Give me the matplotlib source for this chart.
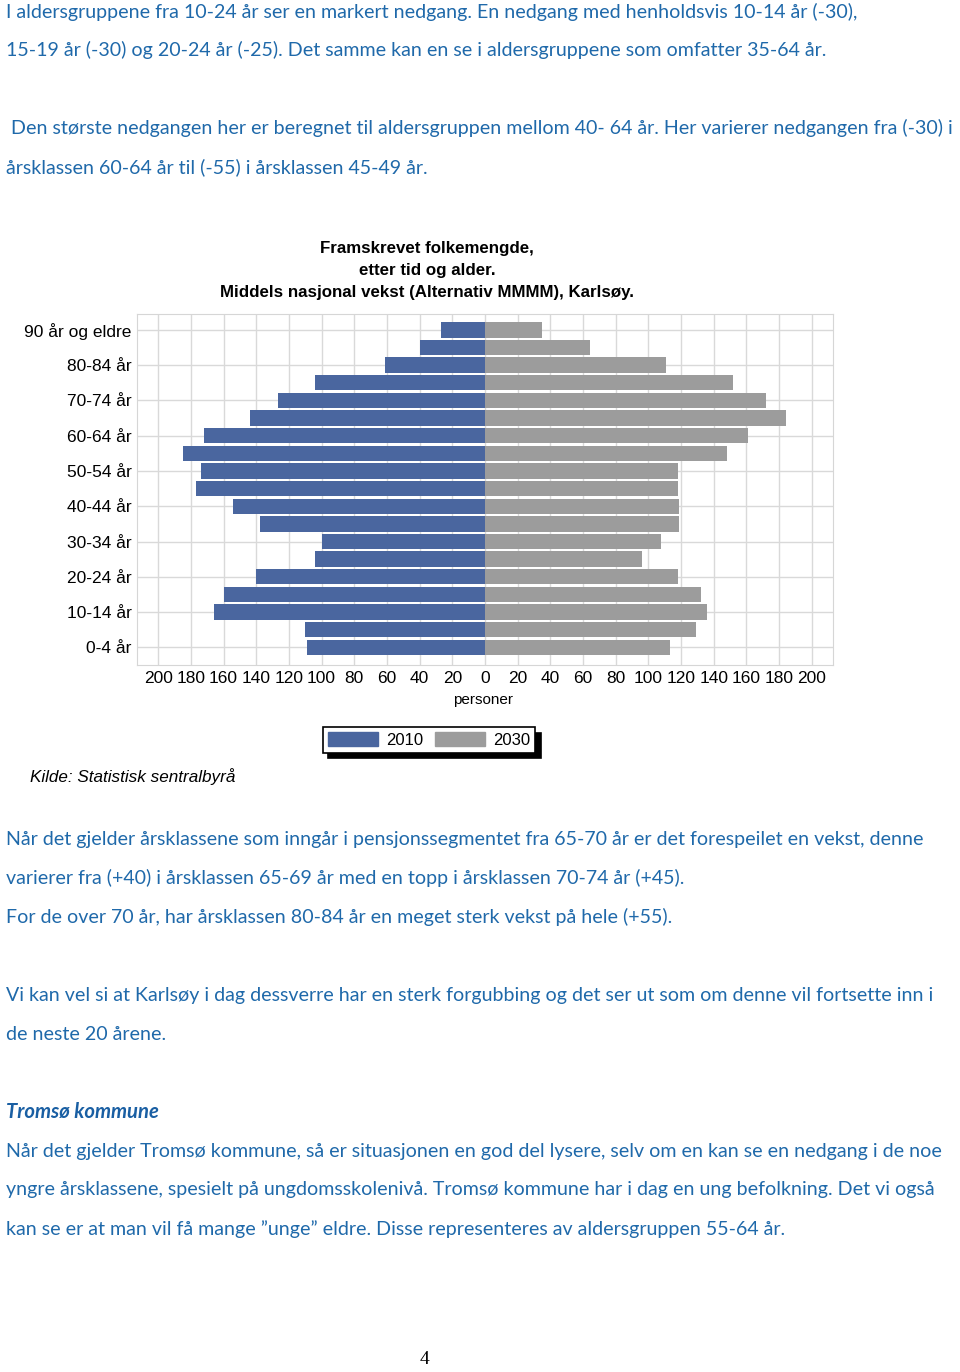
import numpy as np
import matplotlib
matplotlib.use('Agg')
import matplotlib.pyplot as plt
from matplotlib.patches import Patch

# aldersgrupper, fra yngst til eldst
ages = ['0-4 år', '5-9 år', '10-14 år', '15-19 år', '20-24 år', '25-29 år',
        '30-34 år', '35-39 år', '40-44 år', '45-49 år', '50-54 år', '55-59 år',
        '60-64 år', '65-69 år', '70-74 år', '75-79 år', '80-84 år', '85-89 år',
        '90 år og eldre']
pop_2010 = [109, 110, 166, 160, 140, 104, 100, 138, 154, 177,
            174, 185, 172, 144, 127, 104, 61, 40, 27]
pop_2030 = [113, 129, 136, 132, 118, 96, 108, 119, 119, 118,
            118, 148, 161, 184, 172, 152, 111, 64, 35]
x_ticks = list(range(-200, 201, 20))
legend_labels = ['2010', '2030']

title_lines = ["Framskrevet folkemengde,", "etter tid og alder.",
               "Middels nasjonal vekst (Alternativ MMMM), Karlsøy."]
source = "Kilde: Statistisk sentralbyrå"

text_top = [
    (6, 12, "I aldersgruppene fra 10-24 år ser en markert nedgang. En nedgang med henholdsvis 10-14 år (-30),"),
    (6, 50, "15-19 år (-30) og 20-24 år (-25). Det samme kan en se i aldersgruppene som omfatter 35-64 år."),
    (11, 128, "Den største nedgangen her er beregnet til aldersgruppen mellom 40- 64 år. Her varierer nedgangen fra (-30) i"),
    (6, 167, "årsklassen 60-64 år til (-55) i årsklassen 45-49 år."),
    (6, 839, "Når det gjelder årsklassene som inngår i pensjonssegmentet fra 65-70 år er det forespeilet en vekst, denne"),
    (6, 878, "varierer fra (+40) i årsklassen 65-69 år med en topp i årsklassen 70-74 år (+45)."),
    (6, 917, "For de over 70 år, har årsklassen 80-84 år en meget sterk vekst på hele (+55)."),
    (6, 995, "Vi kan vel si at Karlsøy i dag dessverre har en sterk forgubbing og det ser ut som om denne vil fortsette inn i"),
    (6, 1034, "de neste 20 årene."),
    (6, 1151, "Når det gjelder Tromsø kommune, så er situasjonen en god del lysere, selv om en kan se en nedgang i de noe"),
    (6, 1190, "yngre årsklassene, spesielt på ungdomsskolenivå. Tromsø kommune har i dag en ung befolkning. Det vi også"),
    (6, 1229, "kan se er at man vil få mange ”unge” eldre. Disse representeres av aldersgruppen 55-64 år."),
]

W, H = 960, 1372
blue = '#4a669f'
grey = '#9c9c9c'
txt_blue = '#1f69aa'
sans = ['Liberation Sans', 'DejaVu Sans']
body = ['Lato', 'DejaVu Sans']

fig = plt.figure(figsize=(W / 100, H / 100), dpi=100)
fig.patch.set_facecolor('white')

def px(x, y):
    return x / W, 1 - y / H

for x, y, s in text_top:
    fig.text(*px(x, y), s, fontsize=14.15, family=body,
             color=txt_blue, va='center', ha='left')
fig.text(*px(6, 1112), "Tromsø kommune", fontsize=14.6, family=body,
         color='#1a5fa3', weight='bold', style='italic', va='center')
fig.text(*px(424, 1360), "4", fontsize=14, family='Liberation Serif', va='center', ha='center')

# diagram
ax = fig.add_axes([137 / W, 1 - 665 / H, 696 / W, 351 / H])
y = np.arange(len(ages))
ax.barh(y, -np.array(pop_2010), height=0.87, color=blue, zorder=3)
ax.barh(y, pop_2030, height=0.87, color=grey, zorder=3)
ax.set_xlim(-213, 213)
ax.set_ylim(-1, 18.9)
ax.set_xticks(x_ticks)
ax.set_xticklabels([str(abs(v)) for v in x_ticks], family=sans, fontsize=12.5)
ax.set_yticks(y[::2])
ax.set_yticklabels(ages[::2], family=sans, fontsize=12.5)
ax.grid(True, color='#d9d9d9', lw=1, zorder=0)
ax.tick_params(length=0, pad=4)
for sp in ax.spines.values():
    sp.set_color('#d6d6d6')

for i, line in enumerate(title_lines):
    fig.text(*px(427, 249 + 22 * i), line, family=sans, weight='bold',
             fontsize=12.2, ha='center', va='center')
fig.text(*px(483, 700), "personer", family=sans, fontsize=11, ha='center', va='center')
fig.text(*px(30, 777), source, family=sans, style='italic', fontsize=12.3, va='center')

handles = [Patch(color=blue), Patch(color=grey)]
leg = fig.legend(handles, legend_labels, loc='center', bbox_to_anchor=px(429, 740), ncol=2,
                 frameon=True, fancybox=False, edgecolor='black', framealpha=1,
                 shadow={'color': 'black', 'alpha': 1, 'ox': 4, 'oy': -4},
                 prop={'family': sans, 'size': 12}, handlelength=3.0, handleheight=0.9,
                 columnspacing=0.7, handletextpad=0.5, borderpad=0.3, borderaxespad=0)
leg.get_frame().set_linewidth(1.2)

fig.savefig('out.png', dpi=100)
